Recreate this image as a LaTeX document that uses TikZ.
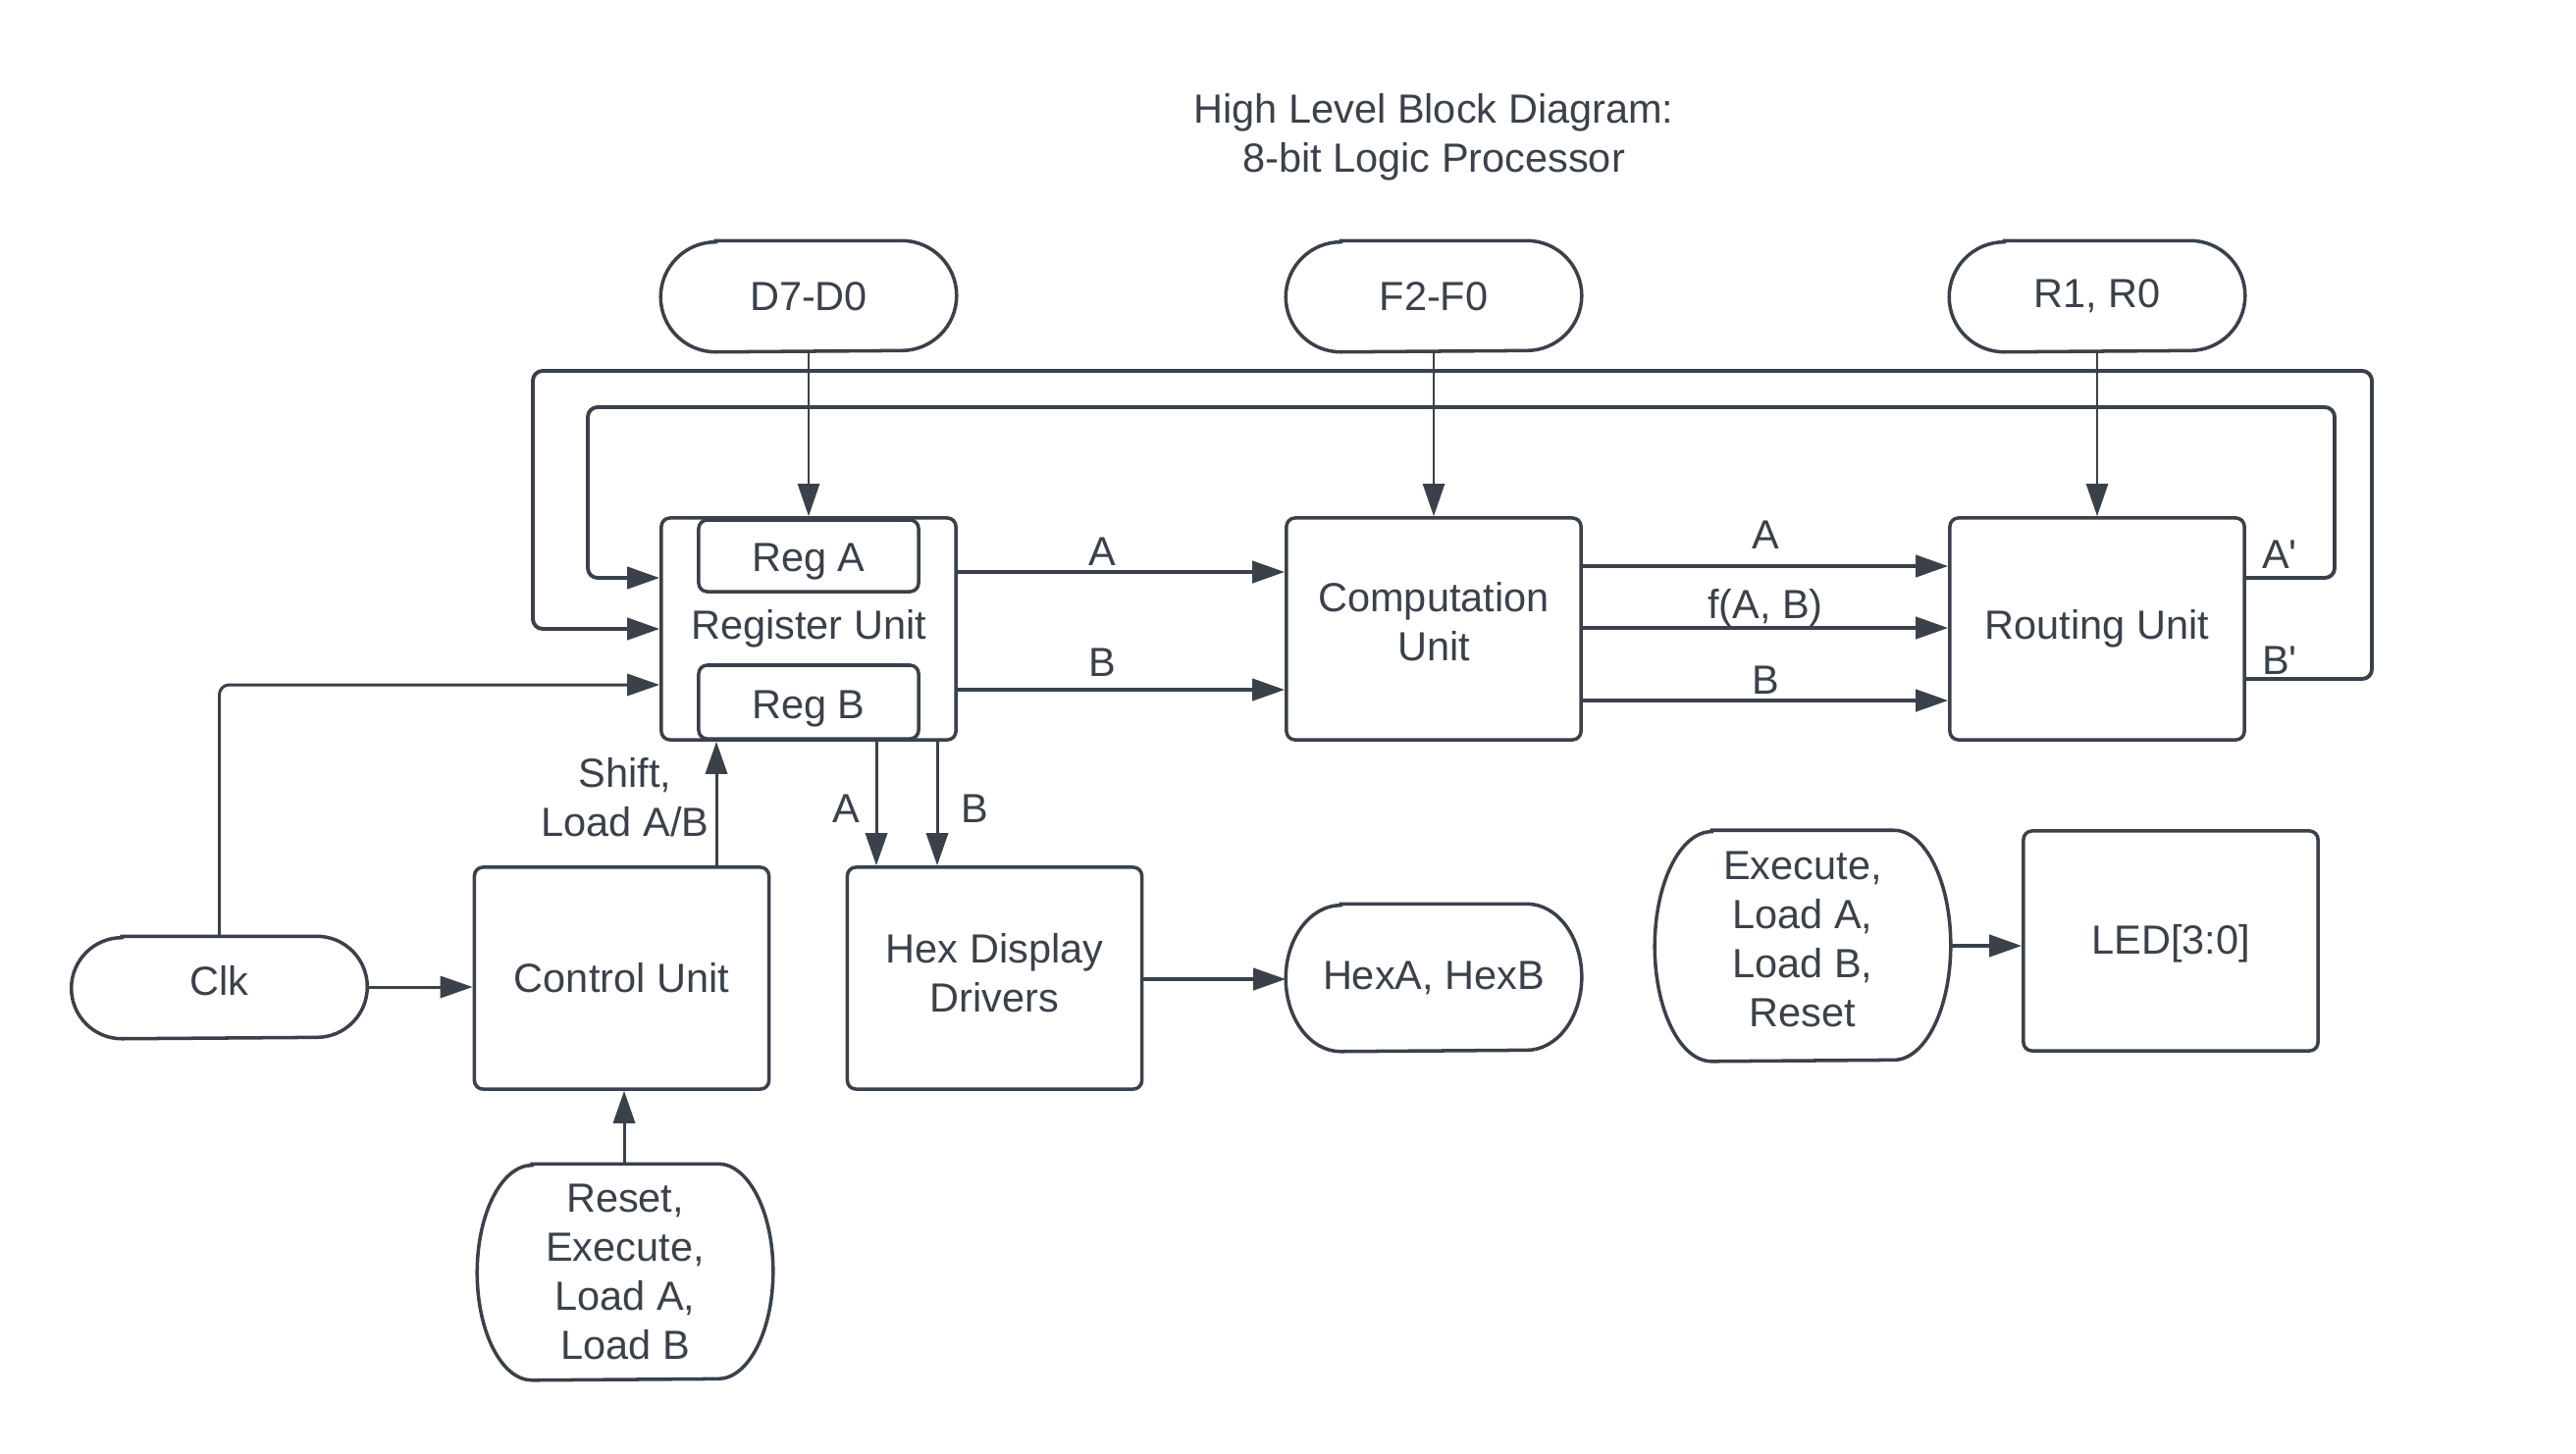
\documentclass[tikz,border=0pt]{standalone}
\usepackage{fontspec}
\setmainfont{Liberation Sans}[Ligatures=TeXOff]
\usetikzlibrary{arrows.meta}
\definecolor{lc}{HTML}{3A414A}
\newcommand\pillpath[3]{\draw[draw=lc, line width=1pt] ([xshift=#2]#1.north west) -- ([xshift=-#2]#1.north east) arc[start angle=90,end angle=-90,x radius=#2,y radius=#3] -- ([xshift=#2]#1.south west) arc[start angle=270,end angle=90,x radius=#2,y radius=#3] -- cycle;}
\begin{document}
\begin{tikzpicture}[x=0.01cm,y=-0.01cm,
 every node/.style={text=lc, font=\fontsize{11.8}{14.2}\selectfont, align=center},
 box/.style={draw=lc, line width=1pt, rounded corners=2.5pt, minimum width=3cm, minimum height=2.26cm, inner sep=0pt},
 pillnode/.style={minimum width=3cm, inner sep=0pt},
 arrtip/.style={-{Triangle[length=9.4pt,width=6.3pt]}},
 thinarr/.style={arrtip, draw=lc, line width=0.6pt},
 medarr/.style={arrtip, draw=lc, line width=0.85pt, rounded corners=0.1cm},
 thickarr/.style={arrtip, draw=lc, line width=1.1pt, rounded corners=0.1cm},
 lbl/.style={inner sep=0pt},
]
\useasboundingbox (0,0) rectangle (2625,1481);
\fill[white] (0,0) rectangle (2625,1481);

% title
\node[lbl] (title) at (1461,140) {High Level Block Diagram:\\8-bit Logic Processor};

% input pills
\node[pillnode, minimum height=1.12cm] (d7) at (824,302) {D7-D0};
\pillpath{d7}{0.56cm}{0.56cm}
\node[pillnode, minimum height=1.12cm] (f2) at (1461,302) {F2-F0};
\pillpath{f2}{0.56cm}{0.56cm}
\node[pillnode, minimum height=1.12cm] (r1) at (2137,302) {R1, R0};
\pillpath{r1}{0.56cm}{0.56cm}

% main units
\node[box] (reg) at (824,641) {Register Unit};
\node[box, minimum width=2.24cm, minimum height=0.73cm] (rega) at (824,566.5) {};
\node[lbl] (regaT) at (824,573) {Reg A};
\node[box, minimum width=2.24cm, minimum height=0.75cm] (regb) at (824,715.5) {};
\node[lbl] (regbT) at (824,723) {Reg B};
\node[box] (cu) at (1461,641) {};
\node[lbl] (cuT) at (1461,634) {Computation\\Unit};
\node[box] (ru) at (2137,641) {Routing Unit};

% lower row
\node[box] (ctrl) at (633.5,997) {Control Unit};
\node[box] (hdd) at (1013.5,997) {};
\node[lbl] (hddT) at (1013.5,992) {Hex Display\\Drivers};
\node[pillnode, minimum height=1.49cm] (hex) at (1461,996.5) {HexA, HexB};
\pillpath{hex}{0.56cm}{0.745cm}
\node[pillnode, minimum height=1.03cm] (clk) at (223.5,1006.5) {};
\node[lbl] (clkT) at (223.5,999.5) {Clk};
\pillpath{clk}{0.515cm}{0.515cm}
\node[pillnode, minimum height=2.19cm] (rst) at (637,1296.5) {Reset,\\Execute,\\Load A,\\Load B};
\pillpath{rst}{0.56cm}{1.095cm}
\node[pillnode, minimum height=2.34cm] (exe) at (1837,964) {};
\node[lbl] (exeT) at (1837,957) {Execute,\\Load A,\\Load B,\\Reset};
\pillpath{exe}{0.58cm}{1.17cm}
\node[box, minimum height=2.24cm] (led) at (2212,959) {};
\node[lbl] (ledT) at (2212,962) {LED[3:0]};

% helper coordinates
\coordinate (yA) at (0,583);
\coordinate (yB) at (0,703);
\coordinate (y1) at (0,577);
\coordinate (y2) at (0,640);
\coordinate (y3) at (0,714);
\coordinate (yIn) at (0,589);
\coordinate (yOutR) at (0,692);
\coordinate (yOutL) at (0,641);
\coordinate (yClk) at (0,698);
\coordinate (yClk2) at (0,1006);
\coordinate (yHex) at (0,998);
\coordinate (yLed) at (0,964);
\coordinate (xS) at (730,0);
\coordinate (xHA) at (893,0);
\coordinate (xHB) at (955,0);
\coordinate (xR) at (636,0);
\coordinate (inR) at (2379,589);
\coordinate (inRT) at (2379,415);
\coordinate (inLT) at (599,415);
\coordinate (inL) at (599,589);
\coordinate (outR) at (2417,692);
\coordinate (outRT) at (2417,378);
\coordinate (outLT) at (543,378);
\coordinate (outL) at (543,641);
\coordinate (clkC) at (223.5,698);

% inputs
\draw[thinarr] (d7) -- (reg);
\draw[thinarr] (f2) -- (cu);
\draw[thinarr] (r1) -- (ru);

% register -> computation
\draw[thickarr] (reg.east |- yA) -- (cu.west |- yA);
\node[lbl] (lA1) at (1123,562) {A};
\draw[thickarr] (reg.east |- yB) -- (cu.west |- yB);
\node[lbl] (lB1) at (1123,675) {B};

% computation -> routing
\draw[thickarr] (cu.east |- y1) -- (ru.west |- y1);
\node[lbl] (lA2) at (1799,545) {A};
\draw[thickarr] (cu.east |- y2) -- (ru.west |- y2);
\node[lbl] (lF) at (1799,620) {f(A, B)};
\draw[thickarr] (cu.east |- y3) -- (ru.west |- y3);
\node[lbl] (lB2) at (1799,693) {B};

% feedback loops
\draw[thickarr] (ru.east |- yIn) -- (inR) -- (inRT) -- (inLT) -- (inL) -- (reg.west |- yIn);
\node[lbl] (lAp) at (2323,565) {A'};
\draw[thickarr] (ru.east |- yOutR) -- (outR) -- (outRT) -- (outLT) -- (outL) -- (reg.west |- yOutL);
\node[lbl] (lBp) at (2323,673) {B'};

% clock
\draw[medarr] (clk.north) -- (clkC) -- (reg.west |- yClk);
\draw[medarr] (clk.east |- yClk2) -- (ctrl.west |- yClk2);

% control
\draw[medarr] (ctrl.north -| xS) -- (reg.south -| xS);
\node[lbl] (lS) at (637,813) {Shift,\\Load A/B};
\draw[medarr] (rst.north -| xR) -- (ctrl.south -| xR);

% hex display
\draw[medarr] (reg.south -| xHA) -- (hdd.north -| xHA);
\node[lbl] (lA3) at (862,824) {A};
\draw[medarr] (reg.south -| xHB) -- (hdd.north -| xHB);
\node[lbl] (lB3) at (993,824) {B};
\draw[thickarr] (hdd.east |- yHex) -- (hex.west |- yHex);

% LEDs
\draw[thickarr] (exe.east |- yLed) -- (led.west |- yLed);
\end{tikzpicture}
\end{document}
